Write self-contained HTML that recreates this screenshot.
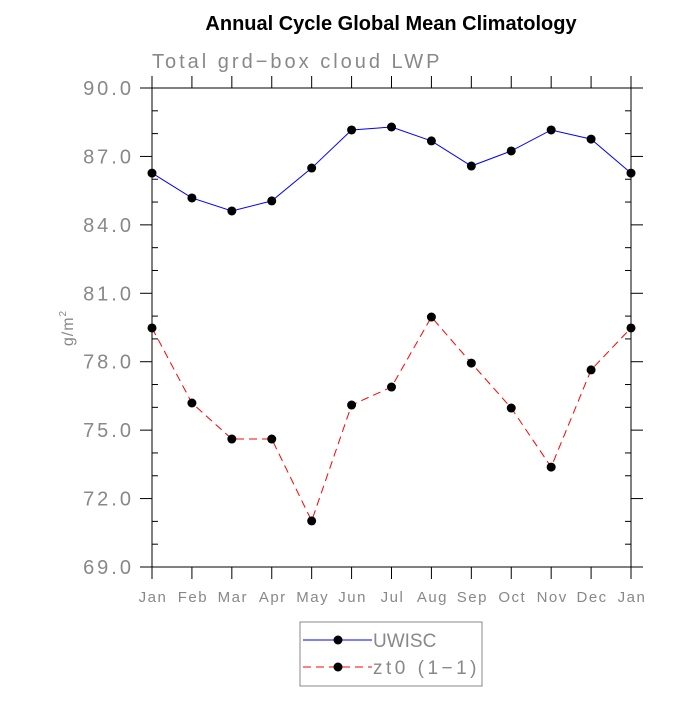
<!DOCTYPE html>
<html><head><meta charset="utf-8"><style>
body{margin:0;background:#fff;}
svg text{font-family:"Liberation Sans",sans-serif;}
</style></head><body>
<svg id="chart" width="700" height="700" xmlns="http://www.w3.org/2000/svg">
<text x="391" y="30" text-anchor="middle" font-size="20" font-weight="bold" fill="#000">Annual Cycle Global Mean Climatology</text>
<text x="152" y="68" font-size="20" fill="#888" style="letter-spacing:3px">Total grd−box cloud LWP</text>
<text transform="translate(73,328) rotate(-90)" text-anchor="middle" font-size="16" fill="#888" style="letter-spacing:1px">g/m<tspan font-size="10" dy="-7">2</tspan></text>
<g id="axes"></g>
<g id="series"></g>
<g>
<rect x="300" y="622" width="182" height="64" fill="#fff" stroke="#888" stroke-width="1"/>
<line x1="303" y1="640" x2="372" y2="640" stroke="#00f" stroke-width="1"/>
<circle cx="338" cy="640" r="4.5" fill="#000"/>
<text x="373" y="647" font-size="19" fill="#888">UWISC</text>
<line x1="303" y1="667" x2="372" y2="667" stroke="#f00" stroke-width="1" stroke-dasharray="8,5"/>
<circle cx="338" cy="667" r="4.5" fill="#000"/>
<text x="373" y="674" font-size="19" fill="#888" style="letter-spacing:3.5px">zt0 (1−1)</text>
</g>
</svg>
<script>
const months = ["Jan","Feb","Mar","Apr","May","Jun","Jul","Aug","Sep","Oct","Nov","Dec","Jan"];
const uwisc = [86.27,85.18,84.61,85.05,86.49,88.16,88.29,87.68,86.58,87.24,88.16,87.76,86.27];
const zt0 = [79.48,76.19,74.61,74.61,71.02,76.10,76.89,79.96,77.94,75.97,73.38,77.64,79.48];
const yTicks = [69,72,75,78,81,84,87,90];
const NS="http://www.w3.org/2000/svg";
const L=152,R=631,T=88,B=567,yMin=69,yMax=90;
const xs=i=>L+(R-L)*i/(months.length-1);
const ys=v=>B-(B-T)*(v-yMin)/(yMax-yMin);
function mk(tag,attrs,parent){const e=document.createElementNS(NS,tag);for(const k in attrs)e.setAttribute(k,attrs[k]);parent.appendChild(e);return e;}
const ax=document.getElementById('axes');
const frame=mk('rect',{x:L,y:T,width:R-L,height:B-T,fill:'none',stroke:'#000','stroke-width':1},ax);


for(let v=yMin;v<=yMax;v++){
  const y=ys(v);
  if(yTicks.includes(v)){
    mk('line',{x1:L-12,y1:y,x2:L,y2:y,stroke:'#000'},ax);
    mk('line',{x1:R,y1:y,x2:R+12,y2:y,stroke:'#000'},ax);
  } else {
    mk('line',{x1:L,y1:y,x2:L+6,y2:y,stroke:'#000'},ax);
    mk('line',{x1:R-6,y1:y,x2:R,y2:y,stroke:'#000'},ax);
  }
}
yTicks.forEach(v=>{
  const t=mk('text',{x:L-18,y:ys(v)+7,'text-anchor':'end','font-size':20,fill:'#888',style:'letter-spacing:3px'},ax);
  t.textContent=v.toFixed(1);
  
  
});
months.forEach((m,i)=>{
  const x=xs(i);
  mk('line',{x1:x,y1:T-12,x2:x,y2:T,stroke:'#000'},ax);
  mk('line',{x1:x,y1:B,x2:x,y2:B+12,stroke:'#000'},ax);
  const t=mk('text',{x:x+1,y:B+35,'text-anchor':'middle','font-size':15,fill:'#888',style:'letter-spacing:1.5px'},ax);
  t.textContent=m;
  
  
});
const sg=document.getElementById('series');
function series(vals,color,dash,name){
  const p=mk('polyline',{points:vals.map((v,i)=>xs(i)+','+ys(v)).join(' '),fill:'none',stroke:color,'stroke-width':1,'stroke-dasharray':dash},sg);
  
  
  vals.forEach((v,i)=>{
    const c=mk('circle',{cx:xs(i),cy:ys(v),r:4.5,fill:'#000'},sg);
    
    
  });
}
series(uwisc,'#00f','none','uwisc');
series(zt0,'#f00','8,5','zt0');
</script>
</body></html>
